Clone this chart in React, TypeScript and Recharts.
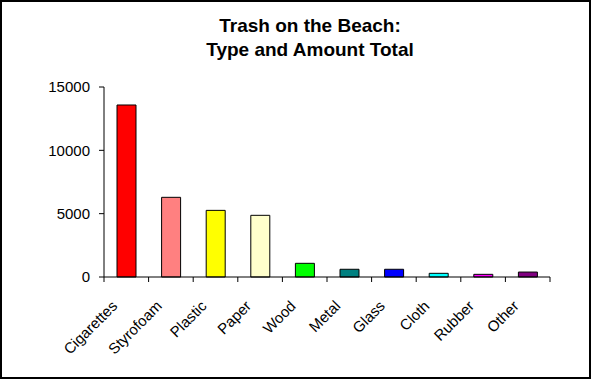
import { BarChart, Bar, XAxis, YAxis, Cell } from "recharts"

const categories = ["Cigarettes", "Styrofoam", "Plastic", "Paper", "Wood", "Metal", "Glass", "Cloth", "Rubber", "Other"]
const totals = [13580, 6290, 5260, 4870, 1080, 610, 610, 290, 210, 390]
const barColors = ["#ff0000", "#ff8080", "#ffff00", "#ffffcc", "#00ff00", "#008080", "#0000ff", "#00ffff", "#ff00ff", "#800080"]
const yTicks = [0, 5000, 10000, 15000]
const titleLines = ["Trash on the Beach:", "Type and Amount Total"]

const data = categories.map((name, i) => ({ name, total: totals[i] }))

const WIDTH = 591
const HEIGHT = 379
const PLOT_LEFT = 104
const PLOT_RIGHT = 550
const STEP = (PLOT_RIGHT - PLOT_LEFT) / categories.length
const FONT = "'Liberation Sans', Arial, sans-serif"

// label rotated 45deg plus a tick mark on the left edge of each category
// eslint-disable-next-line @typescript-eslint/no-explicit-any
const CategoryTick = ({ x, y, payload, index }: any) => {
  const axisY = y - 5
  const left = x - STEP / 2
  const lx = x - 8
  const ly = axisY + 30
  return (
    <g>
      <line x1={left} y1={axisY} x2={left} y2={axisY + 5} stroke="#000" />
      {index === categories.length - 1 && (
        <line x1={x + STEP / 2} y1={axisY} x2={x + STEP / 2} y2={axisY + 5} stroke="#000" />
      )}
      <text
        x={lx}
        y={ly}
        transform={`rotate(-45, ${lx}, ${ly})`}
        textAnchor="end"
        fontSize={15}
        fontFamily={FONT}
        fill="#000"
      >
        {payload.value}
      </text>
    </g>
  )
}

export default function App() {
  return (
    <div
      style={{
        position: "relative",
        width: WIDTH,
        height: HEIGHT,
        boxSizing: "border-box",
        border: "2px solid #000",
        background: "#fff",
      }}
    >
      <style>{"body{margin:0}"}</style>
      <div style={{ position: "absolute", left: -2, top: -2 }}>
        <BarChart
          width={WIDTH}
          height={HEIGHT}
          data={data}
          margin={{ top: 87, right: WIDTH - PLOT_RIGHT, bottom: 12, left: PLOT_LEFT - 60 }}
        >
          <XAxis
            dataKey="name"
            interval={0}
            height={90}
            axisLine={{ stroke: "#000" }}
            tickLine={false}
            tickSize={5}
            tickMargin={0}
            tick={<CategoryTick />}
          />
          <YAxis
            width={60}
            domain={[0, 15000]}
            ticks={yTicks}
            interval={0}
            axisLine={{ stroke: "#000" }}
            tickLine={{ stroke: "#000" }}
            tickSize={5}
            tickMargin={9}
            tick={{ fill: "#000", fontSize: 15, fontFamily: FONT }}
          />
          <Bar dataKey="total" barSize={19} stroke="#000" strokeWidth={1} isAnimationActive={false}>
            {data.map((d, i) => (
              <Cell key={d.name} fill={barColors[i]} />
            ))}
          </Bar>
        </BarChart>
        <svg
          width={WIDTH}
          height={HEIGHT}
          style={{ position: "absolute", left: 0, top: 0, pointerEvents: "none" }}
        >
          {titleLines.map((line, i) => (
            <text
              key={line}
              x={310}
              y={32 + i * 23.5}
              textAnchor="middle"
              fontSize={19}
              fontWeight="bold"
              fontFamily={FONT}
              fill="#000"
            >
              {line}
            </text>
          ))}
        </svg>
      </div>
    </div>
  )
}
